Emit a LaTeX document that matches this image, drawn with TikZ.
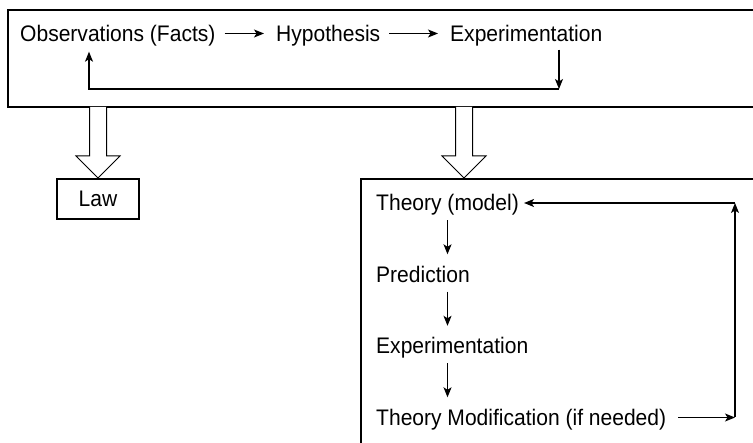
\documentclass[tikz,border=0pt]{standalone}
\usepackage{fontspec}
\setmainfont[FakeStretch=0.935]{Liberation Sans}
\usepackage{tikz}
\usetikzlibrary{arrows.meta}
\tikzset{stage/.style = {inner sep=0pt, anchor=west, text height=16pt, text depth=0pt,
                         font=\fontsize{22.5}{27}\selectfont}}
\tikzset{flow/.style = {-{Stealth[length=10pt,width=8pt,inset=2.5pt]}, line width=1.1pt}}
\tikzset{frame/.style = {line width=1.3pt}}
\newcommand{\hollowarrow}[1]{%
	\filldraw[fill=white, line width=1pt] (#1-8.5,107) -- (#1-8.5,156) -- (#1-22,156)
		-- (#1,178) -- (#1+22,156) -- (#1+8.5,156) -- (#1+8.5,107);}

\begin{document}
\begin{tikzpicture}[x=1pt,y=-1pt]
	\useasboundingbox (0,0) rectangle (753,443);
	\clip (0,0) rectangle (753,443);
	\draw[frame] (8,10) rectangle (790,107);
	\draw[frame] (361,179) rectangle (790,480);
	\hollowarrow{98}
	\hollowarrow{464}
	% upper row
	\node[stage] (obs) at (20,33.5) {Observations (Facts)};
	\node[stage] (hyp) at (276,33.5) {Hypothesis};
	\node[stage] (exp) at (450,33.5) {Experimentation};
	\draw[flow, shorten <=9pt, shorten >=12pt] (obs) -- (hyp);
	\draw[flow, shorten <=9pt, shorten >=12pt] (hyp) -- (exp);
	\coordinate (loopR) at (559,89);
	\coordinate (loopL) at (89,89);
	\draw[flow, shorten <=8pt] (exp.south -| loopR) -- (loopR);
	\draw[flow, shorten >=10pt] (loopR) -- (loopL) -- (obs.south -| loopL);
	% law
	\node[stage, draw, frame, anchor=center, minimum width=82pt, minimum height=40pt] (law) at (98,199) {Law};
	% theory column
	\node[stage] (thy) at (376,203) {Theory (model)};
	\node[stage] (pred) at (376,274.5) {Prediction};
	\node[stage] (test) at (376,346) {Experimentation};
	\node[stage] (mod) at (376,417.5) {Theory Modification (if needed)};
	\draw[flow, shorten <=9pt, shorten >=12pt] (thy.south) -- (thy.south |- pred.north);
	\draw[flow, shorten <=9pt, shorten >=12pt] (thy.south |- pred.south) -- (thy.south |- test.north);
	\draw[flow, shorten <=9pt, shorten >=12pt] (thy.south |- test.south) -- (thy.south |- mod.north);
	\coordinate (backB) at (735,417.5);
	\coordinate (backT) at (735,203);
	\draw[flow, shorten <=12pt] (mod) -- (backB);
	\draw[flow] (backB) -- (backT);
	\draw[flow, shorten >=5pt] (backT) -- (thy);
\end{tikzpicture}
\end{document}
